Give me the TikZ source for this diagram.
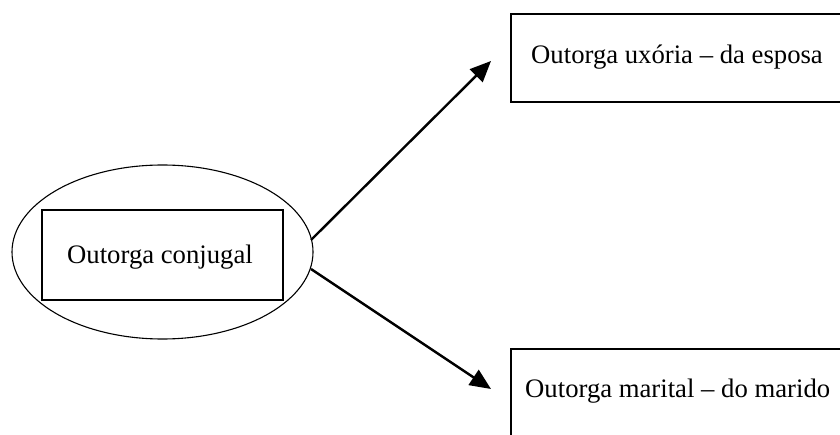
\documentclass[tikz,border=0pt]{standalone}
\usepackage{fontspec}
\setmainfont{Liberation Serif}
\usetikzlibrary{arrows.meta,shapes.geometric}
\begin{document}
\begin{tikzpicture}[x=1pt,y=-1pt,
  label text/.style={font=\fontsize{26.7}{32}\selectfont, inner sep=0pt},
  outer oval/.style={ellipse, draw, line width=1.1pt, minimum width=301pt, minimum height=174pt, inner sep=0pt},
  framebox/.style={draw, line width=1.6pt, rectangle, inner sep=0pt},
  branch/.style={line width=2.4pt, -{Triangle[length=21pt,width=18pt]}}]
  \useasboundingbox (0,0) rectangle (840,435);
  \clip (0,0) rectangle (840,435);
  % central concept
  \node[outer oval] (oval) at (162.5,252) {};
  \node[framebox, minimum width=241pt, minimum height=90pt] (core) at (162.5,255) {};
  \node[label text] (coretext) at (160,257) {Outorga conjugal};
  % the two branches
  \node[framebox, anchor=north west, minimum width=360pt, minimum height=88pt] (upper) at (510,13) {};
  \node[label text, anchor=west] (uppertext) at (531,57) {Outorga uxória – da esposa};
  \node[framebox, anchor=north west, minimum width=360pt, minimum height=110pt] (lower) at (510,348) {};
  \node[label text, anchor=west] (lowertext) at (525,391) {Outorga marital – do marido};
  % connectors
  \coordinate (upstart) at (311,240);
  \coordinate (downstart) at (311,269);
  \coordinate (uptip) at (491,61);
  \coordinate (downtip) at (491,389);
  \draw[branch] (upstart) -- (uptip);
  \draw[branch] (downstart) -- (downtip);
\end{tikzpicture}
\end{document}
